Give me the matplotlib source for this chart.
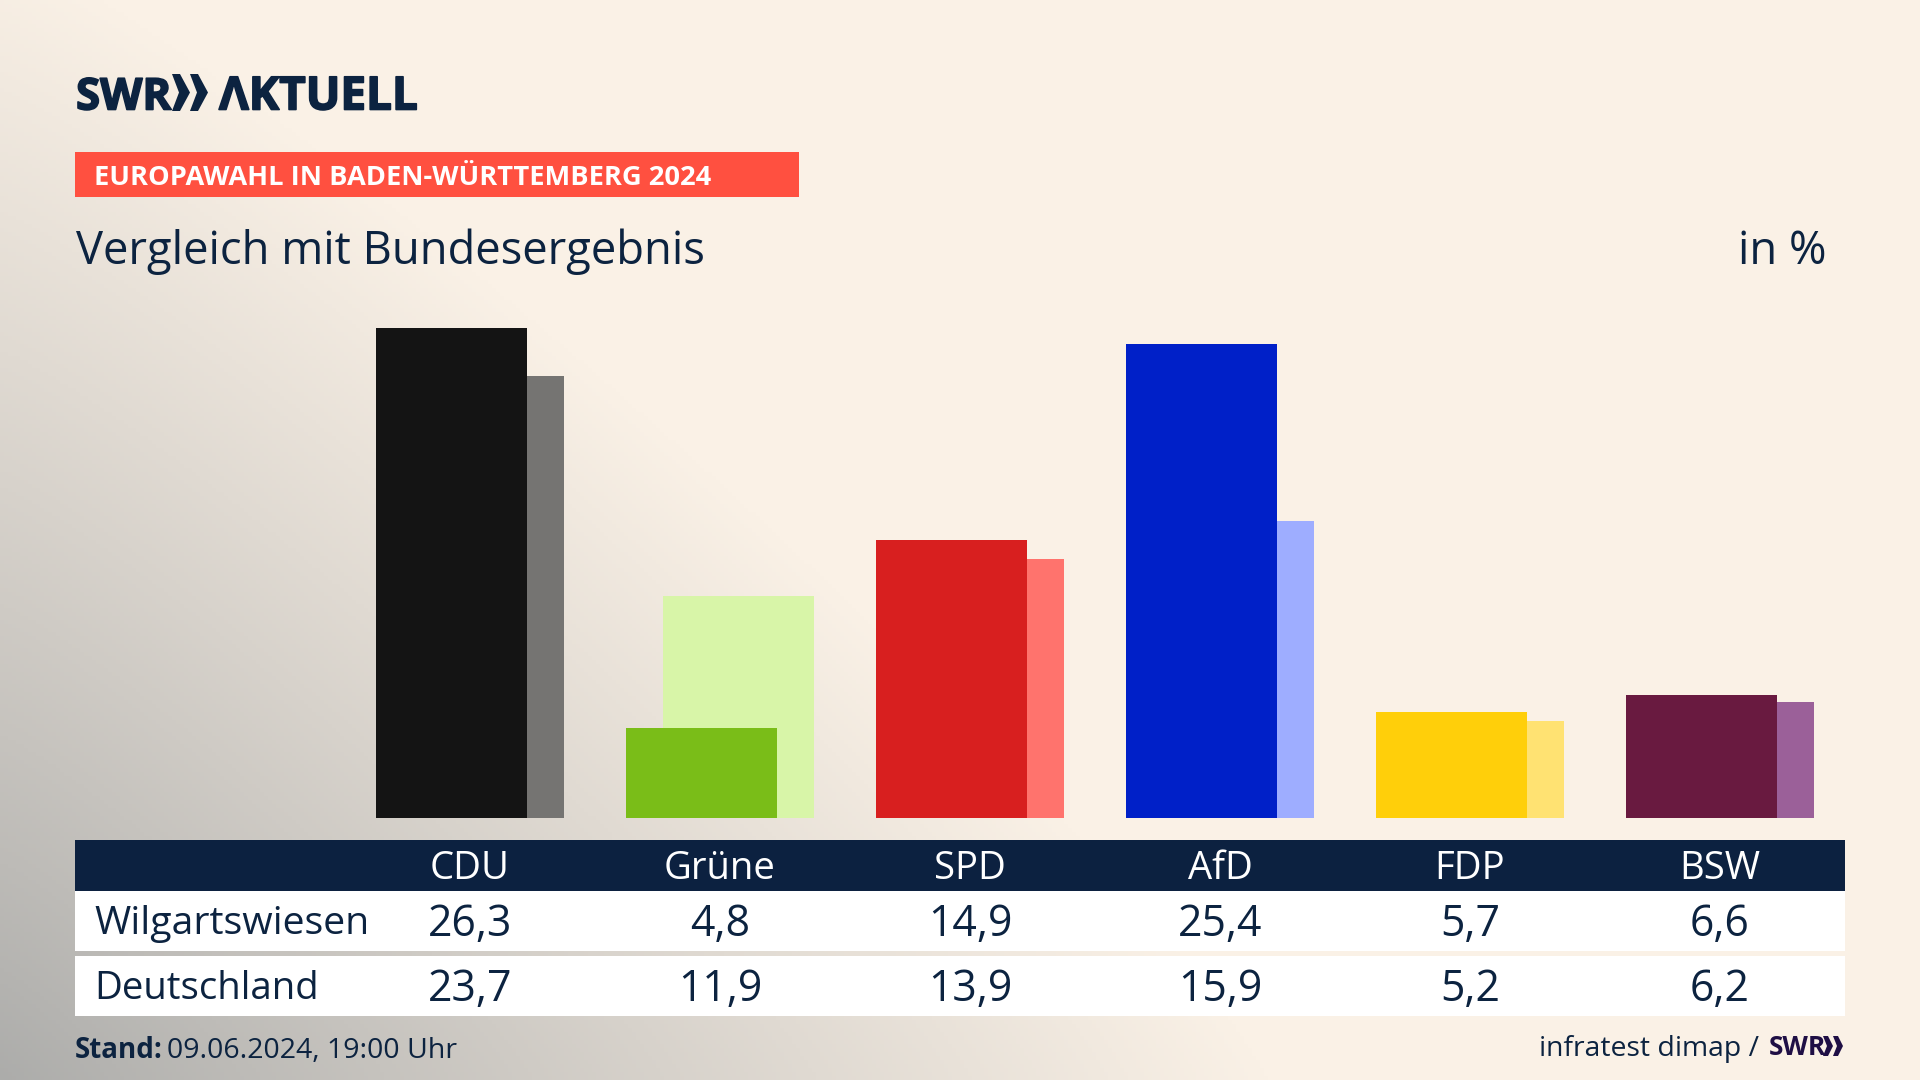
# Europawahl bar comparison, SWR style
import numpy as np
import matplotlib.pyplot as plt
import matplotlib.patheffects as pe
from matplotlib.patches import Rectangle, Polygon
from matplotlib.transforms import blended_transform_factory

plt.rcParams['font.family'] = ['Open Sans', 'DejaVu Sans']

parties = ['CDU', 'Grüne', 'SPD', 'AfD', 'FDP', 'BSW']
region_name = 'Wilgartswiesen'
country_name = 'Deutschland'
region_values = [26.3, 4.8, 14.9, 25.4, 5.7, 6.6]
country_values = [23.7, 11.9, 13.9, 15.9, 5.2, 6.2]
front_colors = ['#141414', '#7abd18', '#d81f1f', '#0020c8', '#ffcf0a', '#691a40']
back_colors = ['#757472', '#d8f5a8', '#ff736d', '#9eadff', '#ffe272', '#9b6099']

NAVY = '#0c2340'
W, H = 1920, 1080

fig = plt.figure(figsize=(W / 100, H / 100), dpi=100)

# Background, grey glow from the bottom left corner
bg = fig.add_axes([0, 0, 1, 1])
xx, yy = np.meshgrid(np.linspace(0, 1, 480), np.linspace(0, 1, 270))
t = np.clip((xx / 0.66) ** 1.15 + (yy / 1.05) ** 1.15, 0, 1) ** 0.8
c0 = np.array([172, 172, 170]) / 255
c1 = np.array([250, 241, 230]) / 255
img = c0 + (c1 - c0) * t[..., None]
bg.imshow(img, origin='lower', extent=[0, W, H, 0], aspect='auto')
bg.set_xlim(0, W)
bg.set_ylim(H, 0)
bg.axis('off')

# Banner and table boxes, in pixels
bg.add_patch(Rectangle((75, 152), 724, 45, color='#ff5040', lw=0))
bg.add_patch(Rectangle((75, 840), 1770, 51, color='#0c2140', lw=0))
bg.add_patch(Rectangle((75, 891), 1770, 60, color='white', lw=0))
bg.add_patch(Rectangle((75, 956), 1770, 60, color='white', lw=0))

# Logo chevrons
for x0 in [172, 190]:
    bg.add_patch(Polygon([(x0, 74), (x0 + 8, 74), (x0 + 18, 92.5), (x0 + 8, 111),
                          (x0, 111), (x0 + 7, 92.5)], facecolor=NAVY, edgecolor='none'))
for x0 in [1823, 1833]:
    bg.add_patch(Polygon([(x0, 1036), (x0 + 5, 1036), (x0 + 10, 1046), (x0 + 5, 1056),
                          (x0, 1056), (x0 + 4, 1046)], facecolor='#1f0f45', edgecolor='none'))

thick = [pe.withStroke(linewidth=1.2, foreground=NAVY)]
bg.text(76, 109.5, 'SWR', fontsize=31.5, fontweight='bold', color=NAVY, va='baseline', path_effects=thick)
bg.text(219, 109.5, 'ΛKTUELL', fontsize=33, fontweight='bold', color=NAVY, va='baseline', path_effects=thick)
bg.text(94, 185, 'EUROPAWAHL IN BADEN-WÜRTTEMBERG 2024', fontsize=19.65, fontweight='bold',
        color='white', va='baseline')
bg.text(76, 264, 'Vergleich mit Bundesergebnis', fontsize=32.7, color=NAVY, va='baseline')
bg.text(1826, 264, 'in %', fontsize=32.7, color=NAVY, ha='right', va='baseline')

# Bars
ax = fig.add_axes([0, (H - 818) / H, 1, 500 / H])
ax.patch.set_alpha(0)
x = np.arange(len(parties))
ax.bar(x + 0.074, country_values, width=0.604, color=back_colors, zorder=1)
ax.bar(x - 0.074, region_values, width=0.604, color=front_colors, zorder=2)
ax.set_xlim(-470 / 250, (W - 470) / 250)
ax.set_ylim(0, 500 / 18.65)
ax.axis('off')

# Table text
tr = blended_transform_factory(ax.transData, bg.transData)
for i, name in enumerate(parties):
    ax.text(i, 879, name, transform=tr, ha='center', va='baseline', fontsize=27.5, color='white')
    ax.text(i, 936, f'{region_values[i]:.1f}'.replace('.', ','), transform=tr, ha='center',
            va='baseline', fontsize=30.8, color=NAVY)
    ax.text(i, 1001, f'{country_values[i]:.1f}'.replace('.', ','), transform=tr, ha='center',
            va='baseline', fontsize=30.8, color=NAVY)
bg.text(94, 934, region_name, fontsize=28.3, color=NAVY, va='baseline')
bg.text(94, 999, country_name, fontsize=27.6, color=NAVY, va='baseline')

# Footer
bg.text(75, 1058, 'Stand:', fontsize=20, fontweight='bold', color=NAVY, va='baseline')
bg.text(167, 1058, '09.06.2024, 19:00 Uhr', fontsize=20.5, color=NAVY, va='baseline')
bg.text(1759, 1056, 'infratest dimap /', fontsize=20.4, color=NAVY, ha='right', va='baseline')
bg.text(1769, 1055, 'SWR', fontsize=19, fontweight='bold', color='#1f0f45', va='baseline')

fig.savefig('out.png', dpi=100)
